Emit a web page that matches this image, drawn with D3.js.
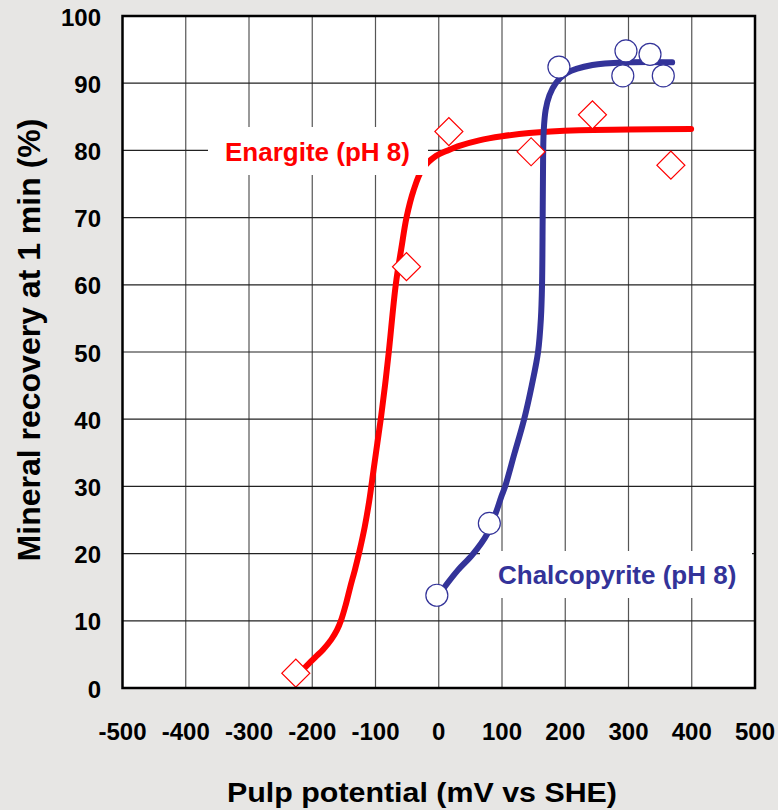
<!DOCTYPE html>
<html>
<head>
<meta charset="utf-8">
<script src="https://cdn.jsdelivr.net/npm/d3@7"></script>
<style>
  body { margin: 0; background: #e7e6e4; }
  svg { display: block; font-family: "Liberation Sans", Arial, sans-serif; }
</style>
</head>
<body>
<svg></svg>
<script>
const width = 778;
const height = 810;

// Enargite (pH 8) measured points and fitted curve
const enargitePts = [
  [-226, 2.2], [-51, 62.7], [16, 82.8], [146, 79.8], [243, 85.3], [367, 77.8]
];
const enargiteCurve = [
  [-212, 3], [-195, 4.6], [-183, 5.7], [-170, 7.2], [-161, 8.6], [-154, 10.2],
  [-147, 12.4], [-140, 15], [-132, 17.8], [-125, 20.5], [-117, 24], [-110, 27.8],
  [-103, 32.5], [-97, 36.5], [-91, 40.5], [-85, 45], [-79, 50], [-68, 60],
  [-59, 65.5], [-51, 70], [-40, 74], [-26, 77.2], [-4, 79.2], [12, 79.9],
  [30, 80.6], [64, 81.5], [100, 82.1], [143, 82.6], [222, 83], [300, 83.1], [399, 83.2]
];

// Chalcopyrite (pH 8) measured points and fitted curve
const chalcoPts = [
  [-3, 13.8], [80, 24.5], [190, 92.4], [296, 94.8], [291, 91.1], [334, 94.3], [355, 91.1]
];
const chalcoCurve = [
  [9, 15], [30, 17.5], [53, 19.8], [77, 23], [90, 26], [99, 28.5], [105, 30],
  [120, 35], [135, 40], [147, 45], [157, 50], [161.5, 55], [163.3, 60],
  [164.3, 70], [165, 79], [166, 83], [169, 86], [175, 88.2], [185, 90],
  [202, 91.5], [243, 92.7], [301, 93.1], [369, 93.1]
];

const xTicks = d3.range(-500, 501, 100);
const yTicks = d3.range(0, 101, 10);

const svg = d3.select("svg")
  .attr("width", width)
  .attr("height", height);

const x = d3.scaleLinear().domain([-500, 500]).range([122.5, 755]);
const y = d3.scaleLinear().domain([0, 100]).range([688, 16]);

// plot background
svg.append("rect")
  .attr("x", x(-500)).attr("y", y(100))
  .attr("width", x(500) - x(-500)).attr("height", y(0) - y(100))
  .attr("fill", "#fff");

// grid
const grid = svg.append("g");
grid.selectAll(".vg")
  .data(xTicks.slice(1, -1))
  .enter().append("line")
  .attr("x1", d => x(d)).attr("x2", d => x(d))
  .attr("y1", y(100)).attr("y2", y(0))
  .attr("stroke", "#555").attr("stroke-width", 1.2);
grid.selectAll(".hg")
  .data(yTicks.slice(1, -1))
  .enter().append("line")
  .attr("x1", x(-500)).attr("x2", x(500))
  .attr("y1", d => y(d)).attr("y2", d => y(d))
  .attr("stroke", "#222").attr("stroke-width", 1.2);

// curves
const line = d3.line()
  .x(d => x(d[0]))
  .y(d => y(d[1]))
  .curve(d3.curveCatmullRom.alpha(0.5));

svg.append("path")
  .datum(enargiteCurve)
  .attr("d", line)
  .attr("fill", "none")
  .attr("stroke", "#ff0000")
  .attr("stroke-width", 6)
  .attr("stroke-linecap", "round");

svg.append("path")
  .datum(chalcoCurve)
  .attr("d", line)
  .attr("fill", "none")
  .attr("stroke", "#333399")
  .attr("stroke-width", 6)
  .attr("stroke-linecap", "round");

// labels with white boxes
svg.append("rect")
  .attr("x", 208).attr("y", 127).attr("width", 220).attr("height", 48)
  .attr("fill", "#fff");
svg.append("text")
  .attr("x", 225).attr("y", 161)
  .attr("font-size", 26).attr("font-weight", "bold")
  .attr("fill", "#ff0000")
  .text("Enargite (pH 8)");

svg.append("rect")
  .attr("x", 480).attr("y", 551).attr("width", 272).attr("height", 47)
  .attr("fill", "#fff");
svg.append("text")
  .attr("x", 498).attr("y", 584)
  .attr("font-size", 26).attr("font-weight", "bold")
  .attr("fill", "#333399")
  .text("Chalcopyrite (pH 8)");

// markers
svg.selectAll(".diamond")
  .data(enargitePts)
  .enter().append("path")
  .attr("d", d3.symbol().type(d3.symbolSquare).size(392))
  .attr("transform", d => `translate(${x(d[0])},${y(d[1])}) rotate(45)`)
  .attr("fill", "#fff")
  .attr("stroke", "#ff0000")
  .attr("stroke-width", 1.2);

svg.selectAll(".circle")
  .data(chalcoPts)
  .enter().append("circle")
  .attr("cx", d => x(d[0]))
  .attr("cy", d => y(d[1]))
  .attr("r", 11)
  .attr("fill", "#fff")
  .attr("stroke", "#333399")
  .attr("stroke-width", 1.2);

// frame
svg.append("rect")
  .attr("x", x(-500)).attr("y", y(100))
  .attr("width", x(500) - x(-500)).attr("height", y(0) - y(100))
  .attr("fill", "none")
  .attr("stroke", "#000")
  .attr("stroke-width", 2.5);

// tick labels
svg.append("g")
  .selectAll("text")
  .data(xTicks)
  .enter().append("text")
  .attr("x", d => x(d))
  .attr("y", 740)
  .attr("text-anchor", "middle")
  .attr("font-size", 24).attr("font-weight", "bold")
  .text(d => d);

svg.append("g")
  .selectAll("text")
  .data(yTicks)
  .enter().append("text")
  .attr("x", 101)
  .attr("y", d => y(d) + 9.5)
  .attr("text-anchor", "end")
  .attr("font-size", 24).attr("font-weight", "bold")
  .text(d => d);

// axis titles
svg.append("text")
  .attr("x", 422).attr("y", 802)
  .attr("text-anchor", "middle")
  .attr("font-size", 28).attr("font-weight", "bold")
  .attr("textLength", 390)
  .attr("lengthAdjust", "spacingAndGlyphs")
  .text("Pulp potential (mV vs SHE)");

svg.append("text")
  .attr("transform", "translate(40,340) rotate(-90)")
  .attr("text-anchor", "middle")
  .attr("font-size", 32).attr("font-weight", "bold")
  .text("Mineral recovery at 1 min (%)");
</script>
</body>
</html>
